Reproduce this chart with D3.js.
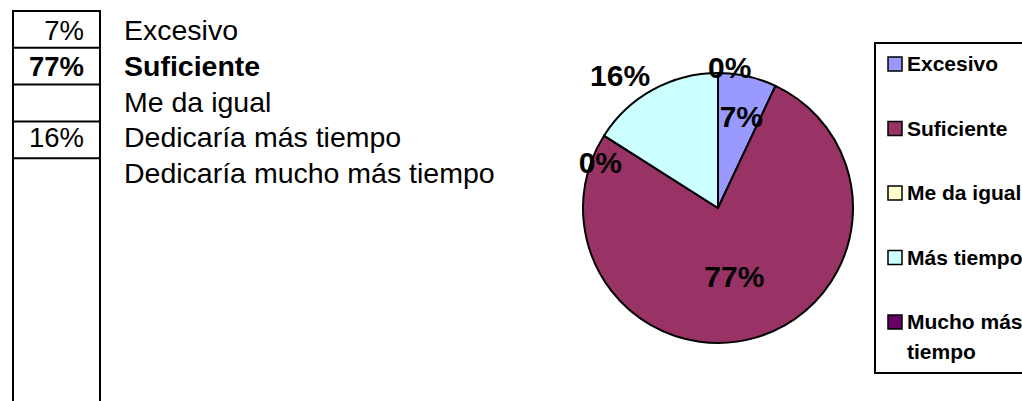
<!DOCTYPE html>
<html>
<head>
<meta charset="utf-8">
<script src="https://cdn.jsdelivr.net/npm/d3@7"></script>
<style>
  body { margin: 0; background: #fff; }
  text { font-family: "Liberation Sans", Arial, sans-serif; }
</style>
</head>
<body>
<svg id="chart"></svg>
<script>
// Data
const categories = ["Excesivo", "Suficiente", "Me da igual", "Dedicaría más tiempo", "Dedicaría mucho más tiempo"];
const legendLabels = ["Excesivo", "Suficiente", "Me da igual", "Más tiempo", "Mucho más tiempo"];
const values = [7, 77, 0, 16, 0];
const tableLabels = ["7%", "77%", "", "16%", ""];
const boldRow = "Suficiente";
const colors = ["#9999FF", "#993366", "#FFFFCC", "#CCFFFF", "#660066"];

const W = 1022, H = 401;
const svg = d3.select("#chart").attr("width", W).attr("height", H);

// ---- left table ----
const tableX0 = 13, tableX1 = 100;
const y = d3.scaleBand().domain(categories).range([11, 11 + 5 * 36.8]);
const yText = d3.scalePoint().domain(categories).range([40, 183]);

const tbl = svg.append("g");
tbl.selectAll(".hline")
    .data(categories)
  .enter().append("line")
    .attr("x1", tableX0).attr("x2", tableX1)
    .attr("y1", d => y(d)).attr("y2", d => y(d))
    .attr("stroke", "#000").attr("stroke-width", 2);
[tableX0, tableX1].forEach(x => {
  tbl.append("line")
    .attr("x1", x).attr("x2", x)
    .attr("y1", y.range()[0] - 1).attr("y2", H)
    .attr("stroke", "#000").attr("stroke-width", 2);
});
tbl.selectAll(".pct")
    .data(categories)
  .enter().append("text")
    .attr("x", 84)
    .attr("y", d => yText(d))
    .attr("text-anchor", "end")
    .style("font-size", "27.5px")
    .style("font-weight", d => d === boldRow ? "bold" : "normal")
    .text((d, i) => tableLabels[i]);
tbl.selectAll(".cat")
    .data(categories)
  .enter().append("text")
    .attr("x", 124)
    .attr("y", d => yText(d))
    .style("font-size", "28.5px")
    .style("font-weight", d => d === boldRow ? "bold" : "normal")
    .text(d => d);

// ---- pie ----
const cx = 718, cy = 208, R = 135;
const pie = d3.pie().sort(null).value(d => d);
const arcs = pie(values);
const arc = d3.arc().innerRadius(0).outerRadius(R);

const g = svg.append("g").attr("transform", `translate(${cx},${cy})`);
g.selectAll("path")
    .data(arcs)
  .enter().append("path")
    .attr("d", arc)
    .attr("fill", (d, i) => colors[i])
    .attr("stroke", "#000")
    .attr("stroke-width", 2)
    .attr("stroke-linejoin", "round");

// label placement (radius factor, anchor, offsets)
const labelStyle = [
  { k: 0.69, anchor: "middle", dx: 3, dy: 10 },
  { k: 0.54, anchor: "middle", dx: -4, dy: 9 },
  { k: 1.0, anchor: "end", dx: 18, dy: 37 },
  { k: 1.12, anchor: "end", dx: 5, dy: 10 },
  { k: 1.0, anchor: "start", dx: -10, dy: 5 }
];
g.selectAll(".plabel")
    .data(arcs)
  .enter().append("text")
    .attr("transform", (d, i) => {
      const c = d3.arc().innerRadius(R * labelStyle[i].k).outerRadius(R * labelStyle[i].k).centroid(d);
      return `translate(${c[0] + labelStyle[i].dx},${c[1] + labelStyle[i].dy})`;
    })
    .attr("text-anchor", (d, i) => labelStyle[i].anchor)
    .style("font-size", "30px")
    .style("font-weight", "bold")
    .text(d => d.data + "%");

// ---- legend ----
const lg = svg.append("g");
lg.append("rect")
    .attr("x", 875).attr("y", 43)
    .attr("width", 170).attr("height", 330)
    .attr("fill", "#fff").attr("stroke", "#000").attr("stroke-width", 2);
const ly = d3.scalePoint().domain(legendLabels).range([64, 322]);
const items = lg.selectAll(".item")
    .data(legendLabels)
  .enter().append("g")
    .attr("transform", d => `translate(0,${ly(d)})`);
items.append("rect")
    .attr("x", 888).attr("y", -7)
    .attr("width", 14).attr("height", 14)
    .attr("fill", (d, i) => colors[i])
    .attr("stroke", "#000").attr("stroke-width", 1.5);
items.append("text")
    .attr("x", 907).attr("y", 7)
    .style("font-size", "21px")
    .style("font-weight", "bold")
    .each(function(d) {
      const t = d3.select(this);
      if (d.length > 12) {
        const words = d.split(" ");
        t.append("tspan").attr("x", 907).text(words.slice(0, 2).join(" "));
        t.append("tspan").attr("x", 907).attr("dy", 30).text(words.slice(2).join(" "));
      } else {
        t.text(d);
      }
    });
</script>
</body>
</html>
